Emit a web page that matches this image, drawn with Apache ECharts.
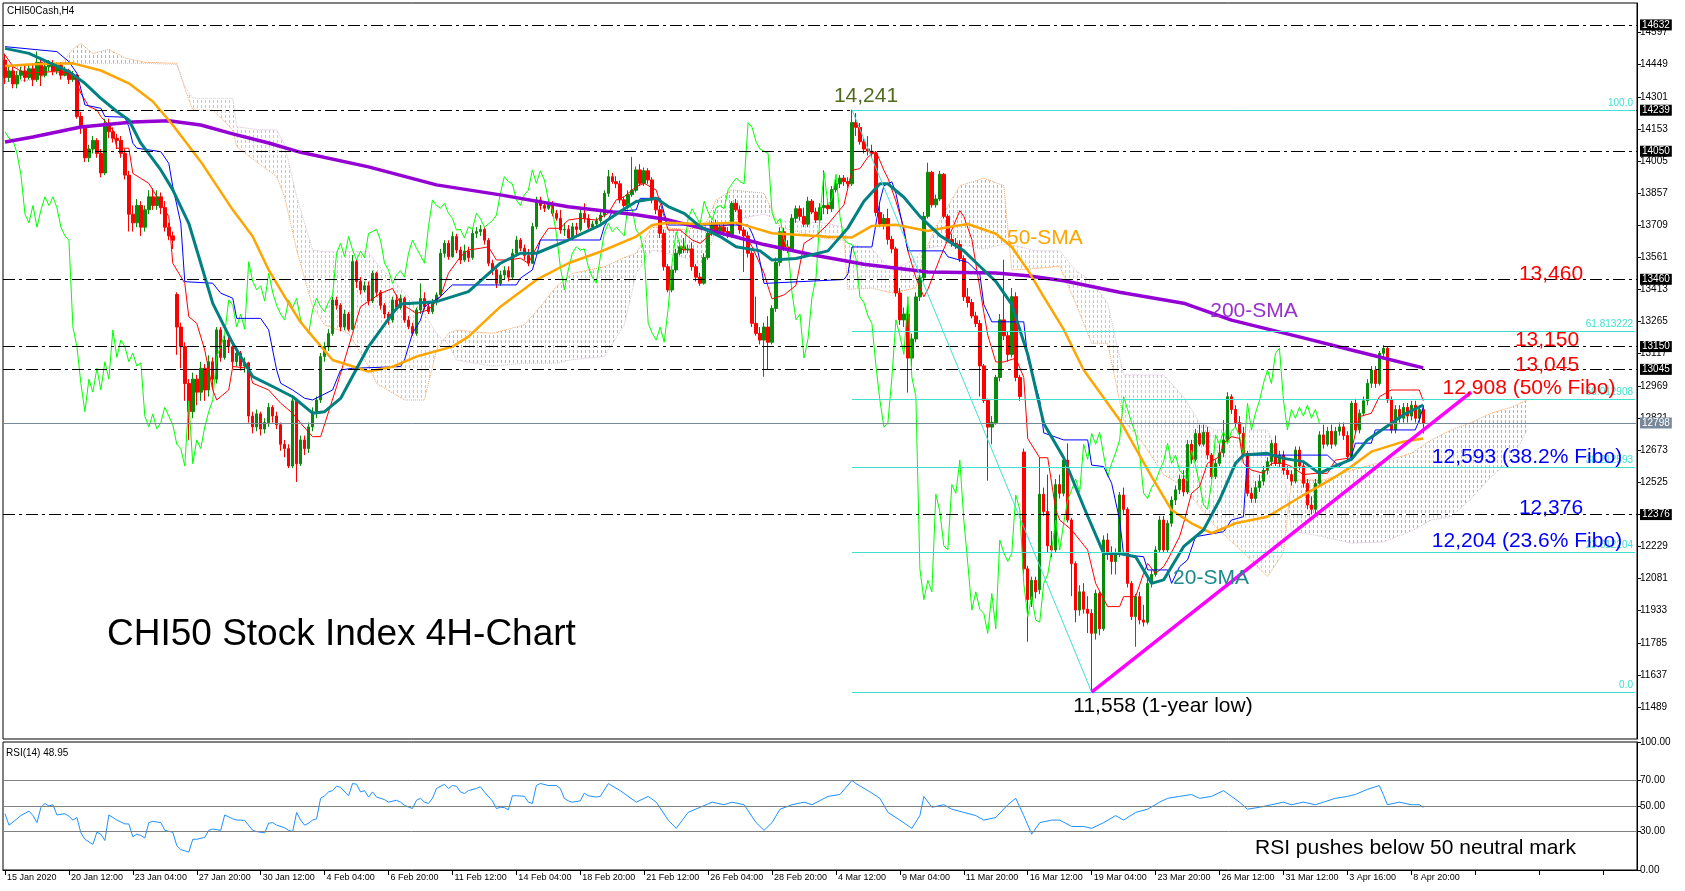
<!DOCTYPE html>
<html><head><meta charset="utf-8">
<script src="https://cdn.jsdelivr.net/npm/echarts@6/dist/echarts.min.js"></script>
<style>html,body{margin:0;padding:0;background:#fff}#c{width:1685px;height:891px}</style>
</head><body><div id="c"></div><script>
// ---------- data ----------
const xLabels = ['15 Jan 2020','20 Jan 12:00','23 Jan 04:00','27 Jan 20:00','30 Jan 12:00','4 Feb 04:00','6 Feb 20:00','11 Feb 12:00','14 Feb 04:00','18 Feb 20:00','21 Feb 12:00','26 Feb 04:00','28 Feb 20:00','4 Mar 12:00','9 Mar 04:00','11 Mar 20:00','16 Mar 12:00','19 Mar 04:00','23 Mar 20:00','26 Mar 12:00','31 Mar 12:00','3 Apr 16:00','8 Apr 20:00'];
const priceTicks = [11489,11637,11785,11933,12081,12229,12377,12525,12673,12821,12969,13117,13265,13413,13561,13709,13857,14005,14153,14301,14449,14597];
const rsiTicks = [0,30,50,70,100];
const levelLines = [14632,14239,14050,13460,13150,13045,12376];
const lastPrice = 12798;
const fibLevels = [14239,13222,12908,12593,12204,11558];
const fibTexts = ['100.0','61.813222','50.012908','38.212593','23.612204','0.0'];
const fibStart = 212;
const fibSwing = [[212,14241],[272,11558]];
const supportLine = [[272,11558],[367,12940]];
const rsiLevels = [30,50,70];

// candles: [open, close, low, high]
const candles = [
[14470,14390,14360,14500],[14390,14420,14370,14440],[14420,14360,14340,14440],[14360,14400,14340,14420],[14400,14420,14380,14440],
[14420,14390,14370,14445],[14390,14430,14380,14450],[14430,14380,14350,14450],[14380,14460,14370,14510],[14460,14400,14350,14480],
[14400,14440,14390,14460],[14440,14450,14420,14470],[14450,14420,14400,14470],[14420,14445,14405,14460],[14445,14400,14380,14460],
[14400,14420,14395,14440],[14420,14380,14360,14430],[14380,14400,14370,14420],[14400,14210,14200,14405],[14210,14160,14130,14230],
[14160,14020,14000,14170],[14020,14060,14000,14080],[14060,14100,14040,14120],[14100,14040,14020,14110],[14040,13950,13930,14060],
[13950,14180,13940,14200],[14180,14140,14110,14200],[14140,14110,14090,14160],[14110,14100,14060,14130],[14100,14040,14020,14120],
[14040,13940,13920,14060],[13940,13760,13680,13960],[13760,13720,13680,13800],[13720,13800,13700,13830],[13800,13700,13660,13820],
[13700,13780,13680,13800],[13780,13840,13760,13870],[13840,13800,13780,13880],[13800,13840,13780,13870],[13840,13790,13760,13860],
[13790,13700,13680,13820],[13700,13660,13640,13720],[13660,13640,13600,13680],[13390,13240,13112,13400],[13240,13150,13050,13260],
[13150,12980,12900,13170],[12980,12850,12720,13000],[12850,13000,12820,13030],[13000,12940,12880,13020],[12940,13050,12900,13080],
[13050,12950,12900,13070],[12950,13080,12920,13110],[13080,13000,12960,13100],[13000,13227,12980,13240],[13227,13100,13080,13240],
[13100,13180,13090,13200],[13180,13150,13120,13210],[13150,13080,13050,13170],[13080,13120,13060,13140],[13120,13060,13040,13130],
[13060,13075,13030,13100],[13075,12830,12800,13080],[12830,12780,12750,12850],[12780,12840,12760,12860],[12840,12770,12740,12850],
[12770,12800,12750,12820],[12800,12870,12780,12890],[12870,12830,12800,12880],[12830,12790,12770,12850],[12790,12700,12670,12800],
[12700,12680,12640,12720],[12680,12600,12590,12700],[12600,12900,12590,12920],[12900,12610,12526,12910],[12610,12720,12600,12740],
[12720,12680,12650,12740],[12680,12780,12660,12800],[12780,12850,12760,12870],[12850,12904,12820,12920],[12904,13104,12890,13120],
[13104,13150,13080,13170],[13150,13210,13130,13230],[13210,13365,13200,13380],[13365,13340,13320,13380],[13340,13240,13220,13350],
[13240,13300,13225,13320],[13300,13230,13220,13310],[13230,13541,13225,13572],[13541,13450,13420,13550],[13450,13411,13390,13470],
[13411,13430,13400,13450],[13430,13360,13340,13450],[13360,13488,13350,13500],[13488,13400,13380,13495],[13400,13340,13320,13410],
[13340,13300,13280,13350],[13300,13272,13250,13310],[13272,13365,13260,13380],[13365,13330,13320,13390],[13330,13372,13320,13390],
[13372,13272,13260,13380],[13272,13242,13230,13290],[13242,13211,13200,13260],[13211,13319,13200,13330],[13319,13372,13300,13441],
[13372,13334,13320,13400],[13334,13311,13300,13360],[13311,13357,13300,13370],[13357,13388,13340,13400],[13388,13580,13380,13600],
[13580,13626,13560,13640],[13626,13564,13550,13640],[13564,13657,13560,13680],[13657,13595,13580,13670],[13595,13549,13530,13610],
[13549,13590,13540,13620],[13590,13560,13540,13610],[13560,13672,13550,13690],[13672,13680,13650,13700],[13680,13690,13660,13710],
[13690,13640,13620,13700],[13640,13534,13520,13650],[13534,13503,13480,13550],[13503,13441,13420,13520],[13441,13480,13430,13500],
[13480,13500,13460,13520],[13500,13470,13450,13520],[13470,13580,13460,13600],[13580,13641,13570,13660],[13641,13603,13590,13650],
[13603,13570,13550,13620],[13570,13534,13520,13600],[13534,13703,13530,13720],[13703,13826,13690,13840],[13826,13800,13780,13840],
[13800,13787,13770,13820],[13787,13810,13780,13830],[13810,13764,13750,13820],[13764,13741,13730,13780],[13741,13687,13670,13780],
[13687,13690,13660,13720],[13690,13650,13640,13710],[13650,13702,13640,13720],[13702,13690,13660,13720],[13690,13764,13680,13780],
[13764,13740,13720,13810],[13740,13700,13690,13760],[13700,13715,13690,13730],[13715,13730,13700,13745],[13730,13756,13720,13770],
[13756,13856,13745,13870],[13856,13933,13840,13964],[13933,13910,13900,13950],[13910,13900,13880,13935],[13900,13826,13810,13915],
[13826,13800,13790,13840],[13800,13850,13790,13870],[13850,13870,13840,14024],[13870,13964,13860,13980],[13964,13902,13890,13990],
[13902,13960,13890,13975],[13960,13918,13900,13972],[13918,13826,13810,13930],[13826,13780,13760,13840],[13780,13672,13650,13800],
[13672,13518,13500,13690],[13518,13411,13400,13530],[13411,13503,13400,13520],[13503,13580,13490,13600],[13580,13610,13570,13630],
[13610,13595,13580,13650],[13595,13600,13580,13620],[13600,13518,13500,13630],[13518,13470,13450,13530],[13470,13442,13430,13490],
[13442,13560,13435,13580],[13560,13672,13550,13690],[13672,13718,13660,13730],[13718,13680,13670,13735],[13680,13700,13670,13720],
[13700,13680,13660,13720],[13680,13660,13650,13700],[13660,13810,13650,13820],[13810,13780,13770,13830],[13780,13687,13670,13800],
[13687,13660,13494,13700],[13660,13580,13560,13680],[13580,13257,13240,13590],[13257,13211,13200,13380],[13211,13180,13160,13240],
[13180,13240,13011,13260],[13240,13170,13044,13290],[13170,13326,13160,13340],[13326,13538,13310,13560],[13538,13679,13520,13700],
[13679,13609,13590,13697],[13609,13600,13580,13640],[13600,13741,13590,13760],[13741,13785,13720,13800],[13785,13750,13730,13800],
[13750,13714,13700,13790],[13714,13820,13700,13840],[13820,13770,13760,13830],[13770,13733,13720,13790],[13733,13790,13720,13810],
[13790,13800,13760,13962],[13800,13785,13760,13830],[13785,13873,13770,13890],[13873,13900,13860,13920],[13900,13926,13880,13940],
[13926,13910,13890,13940],[13910,13900,13880,13930],[13900,14182,13890,14241],[14182,14160,14120,14226],[14160,14094,14080,14180],
[14094,14060,14040,14110],[14060,14050,14030,14120],[14050,14040,14020,14080],[14040,13768,13750,14050],[13768,13715,13700,13800],
[13715,13740,13690,13760],[13740,13644,13620,13785],[13644,13600,13580,13660],[13600,13397,13380,13610],[13397,13273,13250,13420],
[13273,13300,13240,13330],[13300,13097,12938,13344],[13097,13185,13060,13210],[13185,13379,13170,13400],[13379,13467,13360,13480],
[13467,13750,13450,13770],[13750,13953,13740,13997],[13953,13803,13790,13960],[13803,13830,13790,13850],[13830,13944,13820,13960],
[13944,13750,13740,13950],[13750,13644,13630,13760],[13644,13626,13610,13670],[13626,13620,13600,13650],[13620,13556,13540,13640],
[13556,13379,13360,13570],[13379,13353,13330,13420],[13353,13291,13280,13370],[13291,13256,13240,13310],[13256,13061,12920,13273],
[13061,12902,12890,13070],[12902,12779,12532,12910],[12779,12800,12700,12830],[12800,13008,12790,13020],[13008,13273,12990,13300],
[13273,13200,13180,13550],[13200,13114,13080,13220],[13114,13380,13100,13420],[13380,13008,12990,13400],[13008,12920,12900,13020],
[12664,12126,12100,12680],[12126,11984,11790,12140],[11984,12073,11950,12090],[12073,12020,11990,12090],[12030,12470,12010,12640],
[12470,12390,12370,12500],[12390,12232,12200,12560],[12232,12213,12180,12300],[12213,12514,12200,12540],[12514,12474,12450,12560],
[12474,12627,12460,12650],[12627,12351,12340,12704],[12351,12150,12000,12360],[12150,11936,11880,12160],[11936,12020,11910,12050],
[12020,11940,11920,12060],[11940,11921,11830,12000],[11921,11829,11558,11940],[11829,12013,11800,12030],[12013,11850,11820,12020],
[11850,12259,11840,12280],[12259,12200,12167,12290],[12200,12160,12100,12230],[12160,12197,12100,12220],[12197,12466,12180,12480],
[12466,12400,12380,12500],[12400,12059,12040,12410],[12059,11906,11890,12070],[11906,11998,11767,12010],[11998,11890,11870,12020],
[11890,11880,11860,11960],[11880,12059,11870,12080],[12059,12100,12040,12120],[12100,12213,12090,12230],[12213,12351,12200,12370],
[12351,12213,12200,12370],[12213,12336,12200,12350],[12336,12443,12320,12460],[12443,12490,12420,12510],[12490,12540,12470,12560],
[12540,12480,12460,12580],[12480,12700,12470,12720],[12700,12630,12610,12720],[12630,12750,12620,12770],[12750,12700,12690,12790],
[12700,12755,12690,12790],[12755,12650,12630,12780],[12650,12551,12540,12660],[12551,12612,12540,12630],[12612,12660,12600,12700],
[12660,12720,12640,12812],[12720,12919,12710,12940],[12919,12860,12840,12930],[12860,12800,12780,12880],[12800,12750,12720,12830],
[12750,12658,12640,12780],[12658,12474,12460,12670],[12474,12450,12430,12500],[12450,12500,12430,12530],[12500,12530,12480,12560],
[12530,12580,12510,12600],[12580,12620,12560,12640],[12620,12704,12600,12720],[12704,12612,12600,12740],[12612,12650,12590,12670],
[12650,12580,12560,12670],[12580,12560,12540,12600],[12560,12530,12510,12580],[12530,12673,12520,12690],[12673,12600,12580,12690],
[12600,12520,12500,12620],[12520,12420,12400,12540],[12420,12400,12376,12460],[12400,12520,12380,12540],[12520,12743,12510,12760],
[12743,12700,12680,12790],[12700,12760,12690,12780],[12760,12700,12680,12790],[12700,12760,12690,12780],[12760,12780,12740,12800],
[12780,12740,12720,12800],[12740,12643,12620,12760],[12643,12889,12630,12900],[12889,12766,12750,12910],[12766,12843,12750,12860],
[12843,12900,12830,12920],[12900,12981,12880,13000],[12981,13042,12960,13060],[13042,12980,12960,13060],[12980,13119,12970,13130],
[13119,13142,13100,13157],[13142,12904,12890,13150],[12904,12766,12750,12920],[12766,12860,12750,12880],[12860,12820,12800,12880],
[12820,12870,12800,12890],[12870,12830,12800,12890],[12830,12880,12810,12900],[12880,12820,12800,12900],[12820,12860,12800,12880],
[12860,12798,12750,12880]
];

// moving averages: [bar index, value]
const sma20 = [[0,14524],[6,14501],[16,14417],[20,14363],[24,14294],[28,14233],[31,14194],[34,14087],[39,13964],[42,13872],[46,13718],[49,13534],[52,13349],[57,13165],[62,13012],[67,12966],[72,12919],[77,12843],[80,12850],[84,12911],[91,13150],[97,13303],[99,13346],[108,13357],[116,13403],[124,13534],[129,13580],[133,13580],[141,13641],[149,13710],[154,13772],[158,13818],[163,13833],[166,13795],[170,13764],[174,13703],[179,13657],[183,13610],[189,13591],[192,13549],[198,13556],[206,13591],[211,13697],[215,13820],[219,13900],[221,13900],[225,13838],[229,13750],[234,13662],[240,13591],[244,13520],[248,13450],[252,13344],[256,13114],[260,12796],[265,12638],[270,12412],[275,12197],[279,12197],[283,12182],[287,12059],[290,12075],[295,12228],[300,12305],[304,12443],[308,12612],[310,12650],[316,12658],[320,12635],[325,12620],[329,12566],[333,12600],[337,12630],[341,12720],[350,12835],[355,12881]];
const sma50 = [[0,14443],[7,14451],[17,14455],[24,14422],[31,14363],[37,14279],[42,14171],[49,14002],[57,13780],[62,13657],[66,13503],[70,13380],[74,13262],[77,13196],[82,13088],[91,13035],[97,13057],[103,13104],[112,13150],[116,13196],[124,13334],[133,13457],[141,13534],[149,13587],[158,13657],[162,13710],[166,13721],[174,13715],[183,13721],[192,13672],[198,13665],[206,13656],[212,13653],[217,13706],[223,13711],[231,13683],[236,13700],[241,13715],[248,13670],[252,13609],[256,13503],[260,13379],[265,13229],[270,13042],[279,12812],[287,12551],[292,12397],[297,12336],[302,12290],[308,12336],[316,12366],[325,12466],[333,12550],[337,12597],[342,12666],[350,12712],[355,12727]];
const sma200 = [[0,14093],[7,14116],[19,14162],[32,14185],[41,14190],[49,14171],[57,14130],[66,14088],[74,14045],[91,13978],[108,13895],[124,13849],[141,13794],[158,13757],[166,13734],[174,13697],[183,13655],[190,13620],[202,13573],[215,13529],[231,13494],[248,13489],[256,13476],[265,13453],[279,13400],[295,13350],[307,13272],[325,13190],[337,13134],[355,13052]];
// Ichimoku
const tenkan = [[0,14494],[2,14440],[5,14409],[12,14417],[17,14409],[19,14317],[21,14256],[23,14240],[24,14210],[27,14148],[28,14064],[31,14064],[32,13948],[36,13902],[38,13841],[41,13749],[42,13534],[45,13442],[46,13288],[48,13257],[50,13134],[52,12950],[53,12904],[56,12950],[57,13058],[61,13050],[62,12981],[66,12950],[69,12889],[72,12843],[74,12797],[77,12735],[79,12735],[83,12965],[87,13211],[89,13334],[94,13395],[97,13418],[99,13349],[103,13303],[106,13319],[109,13380],[111,13488],[114,13564],[116,13595],[119,13603],[121,13610],[123,13549],[126,13549],[129,13557],[131,13534],[134,13641],[136,13695],[139,13695],[141,13733],[144,13741],[148,13733],[151,13764],[153,13826],[155,13841],[158,13887],[160,13902],[163,13871],[164,13810],[166,13687],[169,13687],[172,13641],[174,13626],[177,13672],[179,13703],[183,13718],[185,13672],[187,13610],[190,13488],[191,13426],[192,13370],[195,13388],[198,13432],[200,13626],[203,13662],[206,13714],[210,13803],[212,13962],[214,13970],[216,14023],[218,14050],[220,13962],[221,13926],[223,13820],[225,13697],[226,13591],[228,13467],[230,13379],[231,13414],[234,13556],[236,13644],[239,13776],[240,13750],[242,13644],[245,13308],[246,13202],[248,13079],[250,13079],[253,13097],[255,13008],[256,12726],[259,12638],[261,12638],[263,12400],[264,12351],[267,12305],[269,12259],[271,12213],[273,12059],[276,11952],[279,11952],[280,11998],[283,11998],[285,12105],[286,12151],[288,12105],[290,12136],[291,12167],[294,12274],[295,12336],[297,12474],[299,12505],[301,12612],[304,12643],[305,12704],[307,12735],[309,12727],[310,12612],[312,12581],[315,12566],[317,12612],[320,12612],[322,12597],[325,12560],[328,12566],[331,12566],[333,12627],[336,12635],[337,12670],[339,12827],[342,12843],[344,12919],[347,12950],[354,12950],[355,12900]];
const kijun = [[0,14532],[13,14509],[16,14463],[18,14409],[20,14263],[24,14248],[25,14210],[30,14207],[31,14163],[32,14087],[33,14064],[39,14048],[41,13994],[42,13887],[44,13718],[45,13449],[52,13442],[54,13396],[57,13373],[58,13280],[64,13280],[66,13227],[67,13134],[68,13042],[69,12981],[72,12950],[75,12912],[77,12904],[82,12950],[84,13042],[87,13050],[99,13058],[100,13088],[102,13211],[104,13272],[105,13334],[107,13357],[109,13380],[111,13418],[112,13434],[128,13434],[129,13465],[132,13503],[133,13564],[134,13641],[149,13641],[150,13703],[152,13772],[158,13780],[159,13833],[164,13833],[165,13764],[166,13710],[186,13710],[187,13672],[188,13626],[189,13540],[190,13441],[210,13459],[211,13485],[212,13609],[217,13609],[219,13820],[220,13891],[222,13909],[223,13856],[225,13679],[226,13591],[235,13591],[236,13564],[241,13538],[244,13485],[245,13344],[247,13264],[255,13264],[256,13097],[259,12902],[260,12752],[265,12720],[271,12720],[272,12604],[275,12597],[277,12520],[279,12351],[280,12190],[285,12182],[286,12121],[291,12121],[292,12059],[294,12136],[296,12167],[298,12274],[305,12297],[307,12351],[310,12366],[311,12650],[331,12650],[334,12597],[337,12643],[338,12705],[342,12705],[343,12766],[353,12766],[354,12812],[355,12873]];
const cloudIdx = [0,8,14,17,19,22,26,30,35,43,45,47,52,57,58,63,68,70,73,77,80,86,91,93,100,105,108,111,113,122,130,134,138,142,150,155,158,162,170,175,178,182,190,194,205,210,211,217,222,228,230,233,239,245,250,252,258,264,268,272,276,280,285,290,295,299,303,310,316,320,322,330,337,345,352,357,362,367,372,377,381];
const spanA = [14370,14380,14450,14520,14547,14500,14520,14480,14460,14455,14340,14240,14240,14148,14071,14000,13933,13840,13595,13334,13250,13211,13060,12980,12904,12904,13134,13211,13226,13211,13250,13334,13426,13487,13518,13560,13580,13702,13690,13700,13826,13872,13856,13700,13650,13640,13414,13420,13397,13420,13573,13700,13891,13926,13891,13503,13510,13520,13350,13165,13165,12812,12700,12560,12505,12410,12320,12200,12090,12200,12535,12535,12580,12620,12658,12720,12766,12800,12843,12870,12904];
const spanB = [14440,14450,14455,14455,14455,14455,14455,14455,14455,14450,14350,14294,14294,14294,14163,14150,14148,14080,13841,13595,13587,13587,13587,13533,13400,13303,13211,13160,13088,13060,13073,13073,13073,13090,13104,13250,13487,13595,13560,13518,13700,13733,13760,13730,13720,13700,13626,13600,13500,13556,13600,13610,13620,13600,13620,13620,13591,13591,13500,13450,13350,13019,13019,13019,12919,12800,12766,12766,12766,12600,12300,12274,12244,12250,12300,12351,12366,12450,12551,12628,12766];
const chikouShift = 26;
// RSI(14): [bar index, value]
const rsi = [[0,44],[1,35],[3,40],[4,42.6],[6,46],[7,42.6],[8,37],[9,49],[10,52],[11,50],[12,51],[13,43],[15,44],[16,42],[17,39],[18,41],[19,29],[20,24],[22,20],[23,29.5],[24,28],[25,23],[26,43],[27,41],[28,39],[30,36],[31,36],[32,26],[33,28],[34,27],[35,25],[36,37],[37,38],[39,37],[40,31],[42,29.5],[43,19],[44,16],[46,14],[47,24],[48,24],[50,25.5],[51,31],[52,32],[54,31],[55,43],[57,40],[58,39],[59,39],[60,38.7],[62,31],[63,30],[65,29],[66,36.6],[67,37],[68,35],[70,33],[71,31],[72,30],[73,45],[74,39],[75,35],[76,36.6],[77,39],[78,40],[79,56],[80,58],[81,61],[82,62],[83,65.5],[84,64.5],[86,58],[87,67.6],[88,67],[89,61],[90,62],[91,57],[92,61],[93,57],[95,55],[96,53],[98,54.5],[99,53],[100,50.5],[102,48],[103,54.5],[104,56],[105,53],[106,52],[107,56],[108,63.7],[110,67],[111,63.7],[112,66],[113,65.5],[114,61],[115,59.7],[116,62],[118,63.7],[119,65],[120,61],[122,54],[123,48],[124,49],[125,48.7],[126,47],[127,58],[128,58],[130,57.6],[131,53],[132,52],[133,66],[134,67.6],[136,66],[138,66],[139,63.7],[140,56],[141,54],[142,53],[144,54],[145,60],[146,58],[148,57],[149,57.5],[151,67.5],[154,62],[158,53],[161,57.5],[163,53],[166,39],[168,32.5],[171,45],[174,49],[177,53],[180,51],[182,53],[185,51],[188,37],[190,31],[192,37],[194,47.5],[197,51],[200,53],[202,51],[206,57.5],[209,59],[212,70],[213,67.5],[216,62],[219,56],[221,45],[224,39],[227,32.5],[229,42.5],[230,57.5],[232,49],[235,51],[237,47.5],[240,45],[243,42.5],[245,39],[248,41],[251,51],[253,56],[255,42.5],[257,28],[259,37],[262,39],[264,39],[267,34],[270,34],[272,32.5],[275,37],[278,42.5],[280,39],[283,45],[286,47.5],[289,53],[291,56],[294,57.5],[297,59],[299,56],[302,57.5],[305,62],[307,57.5],[309,53],[311,47.5],[314,49],[317,51],[320,53],[322,51],[325,53],[328,51],[330,53],[333,56],[336,57.5],[338,59],[341,63],[344,66],[345,59],[346,51],[349,53],[352,51],[354,51],[355,48.95]];

// ---------- chart ----------
const N = 409;
const cats = Array.from({length: N}, (_, i) => String(i));
const AXF = "'Liberation Sans Narrow','Liberation Sans',Arial,sans-serif";
const TXF = "'Liberation Sans',Arial,sans-serif";

function makePattern(color){
  const c = document.createElement('canvas'); c.width = 4; c.height = 5;
  const g = c.getContext('2d'); g.fillStyle = color; g.fillRect(1, 0, 1, 3);
  return {image: c, repeat: 'repeat'};
}
const sandyPat = makePattern('#F4A460');
const thistlePat = makePattern('#D8BFD8');

const cloudSegs = [];
for (let k = 0; k < cloudIdx.length - 1; k++) {
  cloudSegs.push([cloudIdx[k], spanA[k], spanB[k], cloudIdx[k+1], spanA[k+1], spanB[k+1]]);
}
function renderCloud(params, api){
  const x0 = api.value(0), a0 = api.value(1), b0 = api.value(2);
  const x1 = api.value(3), a1 = api.value(4), b1 = api.value(5);
  const pa0 = api.coord([x0, a0]), pb0 = api.coord([x0, b0]);
  const pa1 = api.coord([x1, a1]), pb1 = api.coord([x1, b1]);
  const d0 = a0 - b0, d1 = a1 - b1;
  const ch = [];
  if (d0 * d1 < 0) {
    const t = d0 / (d0 - d1);
    const px = [pa0[0] + t * (pa1[0] - pa0[0]), pa0[1] + t * (pa1[1] - pa0[1])];
    ch.push({type: 'polygon', shape: {points: [pa0, px, pb0]}, style: {fill: d0 > 0 ? sandyPat : thistlePat}});
    ch.push({type: 'polygon', shape: {points: [px, pa1, pb1]}, style: {fill: d1 > 0 ? sandyPat : thistlePat}});
  } else {
    ch.push({type: 'polygon', shape: {points: [pa0, pa1, pb1, pb0]}, style: {fill: (d0 + d1) >= 0 ? sandyPat : thistlePat}});
  }
  return {type: 'group', children: ch, silent: true};
}

const chikou = candles.slice(chikouShift).map((c, k) => [k, c[1]]);
const spanALine = cloudIdx.map((x, k) => [x, spanA[k]]);
const spanBLine = cloudIdx.map((x, k) => [x, spanB[k]]);

function lineS(name, data, color, width, z, type){
  return {name, type: 'line', data, xAxisIndex: 0, yAxisIndex: 0, symbol: 'none', showSymbol: false,
    lineStyle: {color, width, type: type || 'solid'}, z, silent: true, animation: false};
}

function txt(text, x, y, color, size, align){
  return {type: 'text', x, y, z: 100, silent: true,
    style: {text, fill: color, font: size + 'px ' + TXF, align: align || 'center', verticalAlign: 'middle',
            textAlign: align || 'center', textVerticalAlign: 'middle'}};
}

const option = {
  animation: false,
  backgroundColor: '#ffffff',
  grid: [
    {left: 3, top: 3, width: 1634, height: 736, show: true, borderColor: '#000', borderWidth: 1, backgroundColor: '#fff'},
    {left: 3, top: 742, width: 1634, height: 128, show: true, borderColor: '#000', borderWidth: 1, backgroundColor: '#fff'}
  ],
  xAxis: [
    {type: 'category', gridIndex: 0, data: cats, boundaryGap: true,
     axisLine: {show: false}, axisTick: {show: false}, axisLabel: {show: false}, splitLine: {show: false}},
    {type: 'category', gridIndex: 1, data: cats, boundaryGap: true,
     axisLine: {show: true, lineStyle: {color: '#000', width: 1}},
     axisTick: {show: true, interval: 15, alignWithLabel: true, length: 5, lineStyle: {color: '#000'}},
     axisLabel: {interval: 15, align: 'left', margin: 3, padding: [0,0,0,2], fontSize: 9, fontFamily: AXF, color: '#000',
       formatter: (v, idx) => (idx % 16 === 0 && xLabels[idx / 16]) ? xLabels[idx / 16] : ''},
     splitLine: {show: false}}
  ],
  yAxis: [
    {type: 'value', gridIndex: 0, position: 'right', min: 11342, max: 14733, scale: true,
     axisLine: {show: true, lineStyle: {color: '#000'}},
     axisTick: {show: true, length: 4, customValues: priceTicks, lineStyle: {color: '#000'}},
     axisLabel: {customValues: priceTicks, margin: 3, fontSize: 10, fontFamily: AXF, color: '#000', formatter: v => String(v)},
     splitLine: {show: false}},
    {type: 'value', gridIndex: 1, position: 'right', min: 0, max: 100,
     axisLine: {show: true, lineStyle: {color: '#000'}},
     axisTick: {show: true, length: 4, customValues: rsiTicks, lineStyle: {color: '#000'}},
     axisLabel: {customValues: rsiTicks, margin: 3, fontSize: 10, fontFamily: AXF, color: '#000', formatter: v => v.toFixed(2)},
     splitLine: {show: false}}
  ],
  series: [
    {type: 'custom', name: 'cloud', xAxisIndex: 0, yAxisIndex: 0, data: cloudSegs, renderItem: renderCloud,
     encode: {x: [0, 3], y: [1, 2, 4, 5]}, z: 1, silent: true, clip: true},
    lineS('spanA', spanALine, '#F4A460', 1, 1, 'dotted'),
    lineS('spanB', spanBLine, '#D8BFD8', 1, 1, 'dotted'),
    {type: 'candlestick', name: 'CHI50', xAxisIndex: 0, yAxisIndex: 0, data: candles, barWidth: 3, z: 2, silent: true,
     itemStyle: {color: '#0A8A0A', color0: '#FF0000', borderColor: '#0A8A0A', borderColor0: '#FF0000', borderWidth: 1}},
    lineS('chikou', chikou, '#00FF00', 1, 3),
    lineS('tenkan', tenkan, '#FF0000', 1, 3),
    lineS('kijun', kijun, '#0000FF', 1, 3),
    lineS('sma200', sma200, '#9400D3', 3.5, 4),
    lineS('sma50', sma50, '#FFA500', 2.5, 4),
    lineS('sma20', sma20, '#008080', 3, 4),
    lineS('fibSwing', fibSwing, '#40E0D0', 1, 5),
    lineS('support', supportLine, '#FF00FF', 3.5, 6),
    {type: 'line', name: 'levels', xAxisIndex: 0, yAxisIndex: 0, data: [], z: 5, silent: true,
     markLine: {silent: true, symbol: 'none', animation: false,
       data: levelLines.map(v => ({yAxis: v,
         lineStyle: {color: '#000', width: 1, type: [12, 4, 3, 4]},
         label: {show: true, position: 'end', distance: 3, formatter: String(v), color: '#fff', backgroundColor: '#000',
                 padding: [1, 2, 0, 2], fontSize: 10, fontFamily: AXF}})).concat([
         {yAxis: lastPrice, lineStyle: {color: '#778899', width: 1, type: 'solid'},
          label: {show: true, position: 'end', distance: 3, formatter: String(lastPrice), color: '#fff', backgroundColor: '#778899',
                  padding: [1, 2, 0, 2], fontSize: 10, fontFamily: AXF}}])}},
    {type: 'line', name: 'fibo', xAxisIndex: 0, yAxisIndex: 0, data: [], z: 5, silent: true,
     markLine: {silent: true, symbol: 'none', animation: false,
       lineStyle: {color: '#40E0D0', width: 1, type: 'solid'},
       label: {show: true, position: 'insideEndTop', distance: 2, color: '#40E0D0', fontSize: 10, fontFamily: AXF},
       data: fibLevels.map((v, k) => [{coord: [fibStart, v], label: {formatter: fibTexts[k]}}, {coord: [N - 1, v]}])}},
    {type: 'line', name: 'RSI', xAxisIndex: 1, yAxisIndex: 1, data: rsi, symbol: 'none', showSymbol: false, silent: true,
     lineStyle: {color: '#1E90FF', width: 1}, z: 3,
     markLine: {silent: true, symbol: 'none', animation: false, label: {show: false},
       lineStyle: {color: '#808080', width: 1, type: 'solid'}, data: rsiLevels.map(v => ({yAxis: v}))}}
  ],
  graphic: [
    txt('CHI50Cash,H4', 7, 11, '#000', 10, 'left'),
    txt('RSI(14) 48.95', 6, 753, '#000', 10, 'left'),
    txt('14,241', 866, 96, '#4F6B1B', 21),
    txt('50-SMA', 1007, 238, '#FFA500', 21, 'left'),
    txt('13,460', 1551, 274, '#FF0000', 21),
    txt('200-SMA', 1254, 311, '#9932CC', 21),
    txt('13,150', 1547, 340, '#FF0000', 21),
    txt('13,045', 1547, 365, '#FF0000', 21),
    txt('12,908 (50% Fibo)', 1529, 388, '#FF0000', 21),
    txt('12,593 (38.2% Fibo)', 1527, 457, '#0000FF', 21),
    txt('12,376', 1551, 508, '#0000FF', 21),
    txt('12,204 (23.6% Fibo)', 1527, 541, '#0000FF', 21),
    txt('20-SMA', 1211, 578, '#1B8A8C', 21),
    txt('CHI50 Stock Index 4H-Chart', 107, 635, '#000', 37, 'left'),
    txt('11,558 (1-year low)', 1163, 706, '#000', 21),
    txt('RSI pushes below 50 neutral mark', 1255, 848, '#000', 21, 'left')
  ]
};

const chart = echarts.init(document.getElementById('c'), null, {renderer: 'canvas', width: 1685, height: 891});
chart.setOption(option);
</script></body></html>
